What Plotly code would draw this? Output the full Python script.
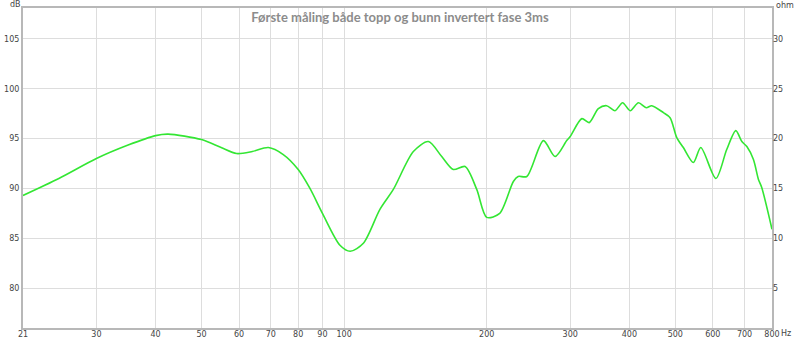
import math
import plotly.graph_objects as go

# Frequency (Hz) and SPL (dB)
freq = [21, 25, 30, 35, 40, 42.5, 50, 55, 59.3, 64, 69.2, 74.4, 80, 84.7, 90, 98, 103,
        109.8, 119, 127, 140, 150.6, 160.7, 170, 180, 190.5, 200, 213, 227.6, 233, 243,
        263.4, 278.8, 295, 300, 317.5, 329, 344, 358, 373, 387, 401.6, 418, 434, 446,
        472, 487.5, 503.6, 520, 546, 566, 609, 642, 671, 691, 708, 731, 749, 761, 800]
spl = [89.3, 91.0, 93.0, 94.35, 95.3, 95.45, 94.9, 94.1, 93.5, 93.7, 94.1, 93.4, 91.9, 90.0,
       87.5, 84.3, 83.7, 84.5, 87.9, 89.9, 93.7, 94.7, 93.2, 91.9, 92.2, 89.9, 87.1, 87.5,
       90.7, 91.2, 91.2, 94.8, 93.2, 94.8, 95.2, 97.0, 96.6, 98.0, 98.3, 97.8, 98.6, 97.8,
       98.6, 98.1, 98.3, 97.6, 97.1, 95.1, 94.1, 92.6, 94.1, 91.0, 93.9, 95.8, 94.7, 94.2,
       92.9, 90.9, 90.1, 85.9]

x_ticks = [21, 30, 40, 50, 60, 70, 80, 90, 100, 200, 300, 400, 500, 600, 700, 800]
db_ticks = [80, 85, 90, 95, 100, 105]
ohm_ticks = [5, 10, 15, 20, 25, 30]
title = "Første måling både topp og bunn invertert fase 3ms"

W, H = 800, 340
L, R, T, B = 23, 28, 8, 12

fig = go.Figure()
fig.add_trace(go.Scatter(x=freq, y=spl, mode="lines",
                         line=dict(color="#33e633", width=1.6, shape="spline", smoothing=0.8),
                         hoverinfo="skip", showlegend=False))
# empty trace so that the right-hand impedance axis is drawn
fig.add_trace(go.Scatter(x=[], y=[], yaxis="y2", mode="lines",
                         hoverinfo="skip", showlegend=False))

grid = "#dddddd"
border = "#b8b8b8"
tickfont = dict(family="DejaVu Sans", size=8, color="#444444")

fig.update_layout(
    width=W, height=H,
    margin=dict(l=L, r=R, t=T, b=B, pad=0),
    paper_bgcolor="white", plot_bgcolor="white",
    title=dict(text=title, x=0.5, xanchor="center", y=1 - 17 / H, yanchor="middle",
               font=dict(family="Lato", size=13, color="#8c8c8c", weight="bold")),
    xaxis=dict(type="log", range=[math.log10(21), math.log10(800)],
               tickvals=x_ticks, ticktext=[str(v) for v in x_ticks],
               showgrid=True, gridcolor=grid, gridwidth=1,
               showline=True, linecolor=border, linewidth=2, mirror=True,
               ticks="", tickfont=tickfont, zeroline=False, automargin=False,
               ticklabelstandoff=-3),
    yaxis=dict(range=[76, 108.1], tickvals=db_ticks,
               showgrid=True, gridcolor=grid, gridwidth=1,
               showline=True, linecolor=border, linewidth=2, mirror=True,
               ticks="", tickfont=tickfont, zeroline=False, automargin=False),
    yaxis2=dict(range=[1, 33.1], tickvals=ohm_ticks, overlaying="y", side="right",
                showgrid=False, showline=False, ticks="", tickfont=tickfont,
                zeroline=False, automargin=False),
)

# unit labels placed at pixel positions converted to paper coordinates
pw, ph = W - L - R, H - T - B
anns = []
for txt, (px, py) in [("dB", (15, 4)), ("ohm", (785, 5)), ("Hz", (786, 333))]:
    anns.append(dict(text=txt, x=(px - L) / pw, y=1 - (py - T) / ph,
                     xref="paper", yref="paper", showarrow=False,
                     xanchor="center", yanchor="middle",
                     font=dict(family="DejaVu Sans", size=8, color="#444444")))
fig.layout.annotations = anns

fig.write_html("out.html")
